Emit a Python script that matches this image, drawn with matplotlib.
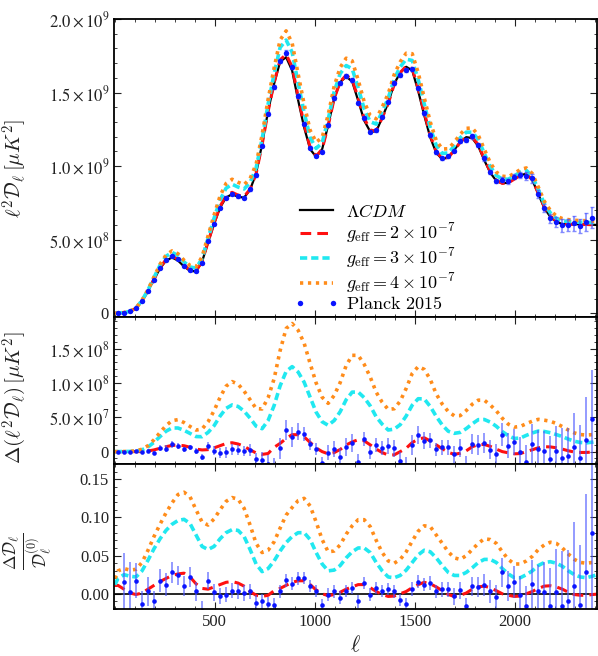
import numpy as np
import matplotlib
matplotlib.use("Agg")
import matplotlib.pyplot as plt
from matplotlib.ticker import MultipleLocator

plt.rcParams['font.family'] = ['Liberation Serif', 'DejaVu Serif']
plt.rcParams['mathtext.fontset'] = 'cm'

# multipoles: low-l points, Planck bin centres (step 30), end point
ell = np.concatenate([[2, 17], np.arange(47, 2388, 30), [2410]])

# LCDM l^2 D_l, units of 1e8 muK^2
lcdm = np.array([
    0.00, 0.02, 0.05, 0.13, 0.35, 0.85, 1.52, 2.30, 3.05, 3.58,
    3.79, 3.58, 3.18, 2.88, 2.85, 3.50, 4.82, 6.08, 7.18, 7.87,
    8.09, 7.92, 7.86, 8.40, 9.50, 11.50, 13.75, 15.60, 17.10, 17.40,
    16.50, 14.48, 12.63, 11.15, 10.63, 11.15, 12.78, 14.60, 15.70, 16.08,
    15.75, 14.45, 13.10, 12.35, 12.35, 13.30, 14.30, 15.60, 16.35, 16.75,
    16.50, 15.10, 13.45, 11.95, 10.90, 10.47, 10.60, 11.10, 11.65, 11.97,
    11.90, 11.35, 10.40, 9.55, 9.00, 8.83, 8.88, 9.15, 9.40, 9.47,
    9.05, 8.10, 7.15, 6.55, 6.20, 6.07, 6.05, 6.05, 6.05, 6.05,
    6.02, 6.00])

# relative change Delta D / D for g_eff = 2, 3, 4 x 1e-7
r2 = np.array([
    0.011, 0.011, 0.006, 0.001, -0.001, 0.001, 0.006, 0.011, 0.016, 0.020,
    0.024, 0.026, 0.027, 0.022, 0.013, 0.007, 0.006, 0.009, 0.012, 0.015,
    0.016, 0.014, 0.010, 0.003, -0.002, -0.0035, -0.002, 0.004, 0.007, 0.011,
    0.015, 0.017, 0.017, 0.012, 0.005, 0.000, -0.0025, -0.001, 0.002, 0.006,
    0.009, 0.012, 0.012, 0.008, 0.003, -0.001, -0.0035, -0.003, 0.000, 0.003,
    0.008, 0.012, 0.015, 0.013, 0.009, 0.004, -0.001, -0.0035, -0.002, 0.001,
    0.006, 0.009, 0.010, 0.008, 0.004, 0.000, -0.002, -0.0035, -0.003, 0.000,
    0.003, 0.007, 0.010, 0.0105, 0.009, 0.006, 0.002, -0.001, -0.002, -0.002,
    -0.001, -0.0005])
r3 = np.array([
    0.012, 0.020, 0.025, 0.023, 0.022, 0.030, 0.044, 0.059, 0.072, 0.083,
    0.091, 0.096, 0.0975, 0.092, 0.077, 0.062, 0.058, 0.062, 0.072, 0.080,
    0.084, 0.083, 0.075, 0.058, 0.039, 0.029, 0.033, 0.043, 0.056, 0.067,
    0.075, 0.080, 0.080, 0.071, 0.054, 0.039, 0.030, 0.031, 0.037, 0.047,
    0.055, 0.060, 0.060, 0.054, 0.041, 0.030, 0.022, 0.021, 0.024, 0.031,
    0.041, 0.051, 0.057, 0.055, 0.047, 0.037, 0.028, 0.024, 0.024, 0.028,
    0.034, 0.041, 0.045, 0.045, 0.041, 0.033, 0.026, 0.021, 0.021, 0.025,
    0.030, 0.037, 0.041, 0.042, 0.040, 0.036, 0.030, 0.025, 0.022, 0.021,
    0.023, 0.025])
r4 = np.array([
    0.020, 0.030, 0.033, 0.031, 0.032, 0.041, 0.057, 0.075, 0.091, 0.106,
    0.119, 0.130, 0.133, 0.127, 0.110, 0.094, 0.090, 0.098, 0.110, 0.121,
    0.126, 0.124, 0.112, 0.090, 0.066, 0.054, 0.057, 0.068, 0.086, 0.103,
    0.113, 0.122, 0.125, 0.115, 0.094, 0.071, 0.055, 0.056, 0.064, 0.078,
    0.089, 0.097, 0.097, 0.088, 0.070, 0.054, 0.043, 0.040, 0.045, 0.055,
    0.069, 0.082, 0.089, 0.088, 0.077, 0.066, 0.055, 0.047, 0.045, 0.050,
    0.058, 0.066, 0.072, 0.071, 0.066, 0.055, 0.045, 0.039, 0.039, 0.043,
    0.049, 0.058, 0.064, 0.0675, 0.066, 0.060, 0.052, 0.045, 0.041, 0.040,
    0.041, 0.042])

# Planck 2015 binned TT (at ell[1:-1]), relative to LCDM, and 1-sigma errors
pl_rel = np.array([
    -0.060, 0.016, 0.002, 0.017, -0.013, 0.003, -0.009, 0.017, 0.012, 0.028,
    0.024, 0.010, 0.022, 0.003, -0.022, 0.017, 0.002, -0.003, -0.001, 0.004,
    0.003, 0.001, 0.003, -0.012, -0.010, -0.013, -0.015, 0.003, 0.018, 0.013,
    0.020, 0.0205, 0.010, 0.004, -0.015, -0.001, 0.003, -0.005, 0.004, 0.008,
    -0.010, 0.014, -0.001, 0.008, 0.004, 0.006, 0.003, -0.008, -0.013, 0.006,
    0.016, 0.012, 0.014, 0.003, 0.006, 0.006, -0.0035, 0.0044, -0.0165, 0.0096,
    0.0087, 0.0117, 0.003, -0.004, 0.028, 0.010, 0.015, -0.001, -0.0165, 0.013,
    0.004, 0.002, -0.016, 0.002, -0.016, -0.010, 0.010, -0.015, 0.028, 0.080])
pl_err = np.array([
    0.030, 0.038, 0.040, 0.023, 0.016, 0.019, 0.012, 0.015, 0.015, 0.014,
    0.013, 0.013, 0.013, 0.013, 0.012, 0.011, 0.011, 0.010, 0.010, 0.010,
    0.010, 0.010, 0.010, 0.010, 0.010, 0.009, 0.009, 0.009, 0.0085, 0.0085,
    0.0085, 0.008, 0.008, 0.008, 0.008, 0.008, 0.008, 0.008, 0.008, 0.008,
    0.008, 0.008, 0.008, 0.008, 0.008, 0.008, 0.008, 0.008, 0.008, 0.009,
    0.009, 0.009, 0.009, 0.009, 0.010, 0.010, 0.011, 0.011, 0.011, 0.012,
    0.013, 0.014, 0.015, 0.016, 0.019, 0.020, 0.021, 0.024, 0.027, 0.031,
    0.034, 0.039, 0.050, 0.057, 0.072, 0.067, 0.084, 0.079, 0.103, 0.117])

labels = [r'$g_{\rm eff}=2\times10^{-7}$', r'$g_{\rm eff}=3\times10^{-7}$',
          r'$g_{\rm eff}=4\times10^{-7}$']

base = lcdm * 1e8
ell_pl = ell[1:-1]
base_pl = base[1:-1]

styles = [dict(color='#ff1010', ls=(0, (3.5, 2.0)), lw=2.2),
          dict(color='#20e8f0', ls=(0, (2.0, 1.1)), lw=2.6),
          dict(color='#ff8c1a', ls=(0, (0.9, 1.3)), lw=2.6)]
ratios = [r2, r3, r4]

fig = plt.figure(figsize=(5.98, 6.56), dpi=100)
ax1 = fig.add_axes([0.1906, 0.5168, 0.8077, 0.4543])
ax2 = fig.add_axes([0.1906, 0.2927, 0.8077, 0.2241])
ax3 = fig.add_axes([0.1906, 0.0716, 0.8077, 0.2211])

pt_col = '#0a14ff'
bar_col = (0.3, 0.35, 1.0, 0.7)

# top: spectra
ax1.plot(ell, base, color='k', lw=1.6, label=r'$\Lambda CDM$')
for r, st, lab in zip(ratios, styles, labels):
    ax1.plot(ell, base * (1 + r), label=lab, **st)
ax1.errorbar(ell_pl, base_pl * (1 + pl_rel), yerr=base_pl * pl_err, fmt='none',
             ecolor=bar_col, elinewidth=1.2, capsize=1.6)
ax1.plot(ell_pl, base_pl * (1 + pl_rel), 'o', color=pt_col, ms=3.9, mew=0,
         label=r'$\mathrm{Planck\ 2015}$')

# middle: absolute difference
for r, st in zip(ratios, styles):
    ax2.plot(ell, base * r, **st)
ax2.errorbar(ell_pl, base_pl * pl_rel, yerr=base_pl * pl_err, fmt='o',
             color=pt_col, ms=3.3, mew=0, ecolor=bar_col, elinewidth=1.2, capsize=1.6)

# bottom: relative difference
ax3.plot(ell, np.zeros(len(ell)), color='k', lw=1.2)
for r, st in zip(ratios, styles):
    ax3.plot(ell, r, **st)
ax3.errorbar(ell_pl, pl_rel, yerr=pl_err, fmt='o',
             color=pt_col, ms=3.3, mew=0, ecolor=bar_col, elinewidth=1.2, capsize=1.6)

ax1.set_ylim(-2.5e7, 2.0e9)
ax2.set_ylim(-1.8e7, 1.96e8)
ax3.set_ylim(-0.02, 0.17)

ax1.set_yticks([0, 5e8, 1e9, 1.5e9, 2e9],
               ['0', r'$5.0\times10^{8}$', r'$1.0\times10^{9}$',
                r'$1.5\times10^{9}$', r'$2.0\times10^{9}$'],
               math_fontfamily='stix')
ax2.set_yticks([0, 5e7, 1e8, 1.5e8],
               ['0', r'$5.0\times10^{7}$', r'$1.0\times10^{8}$',
                r'$1.5\times10^{8}$'], math_fontfamily='stix')
ax3.set_yticks([0, 0.05, 0.10, 0.15], ['0.00', '0.05', '0.10', '0.15'])
ax1.yaxis.set_minor_locator(MultipleLocator(1e8))
ax2.yaxis.set_minor_locator(MultipleLocator(1e7))
ax3.yaxis.set_minor_locator(MultipleLocator(0.01))

for ax in (ax1, ax2, ax3):
    ax.set_xlim(-3, 2410)
    ax.set_xticks([500, 1000, 1500, 2000])
    ax.xaxis.set_minor_locator(MultipleLocator(100))
    ax.tick_params(which='both', direction='in', top=True, right=True,
                   labelsize=12, colors='#222222')
    ax.tick_params(which='major', length=5, width=0.8)
    ax.tick_params(which='minor', length=2.5, width=0.6)
    for s in ax.spines.values():
        s.set_linewidth(1.3)
ax1.tick_params(labelbottom=False)
ax2.tick_params(labelbottom=False)

ax1.set_ylabel(r'$\ell^2\mathcal{D}_\ell\,[\mu K^2]$', fontsize=15, color='#222222')
ax2.set_ylabel(r'$\Delta(\ell^2\mathcal{D}_\ell)\,[\mu K^2]$', fontsize=15, color='#222222')
ax3.set_ylabel(r'$\frac{\Delta\mathcal{D}_\ell}{\mathcal{D}_\ell^{(0)}}$', fontsize=18,
               color='#222222')
ax1.yaxis.set_label_coords(-0.175, 0.5)
ax2.yaxis.set_label_coords(-0.175, 0.45)
ax3.yaxis.set_label_coords(-0.125, 0.4)
ax3.set_xlabel(r'$\ell$', fontsize=16, color='#222222', labelpad=4)

ax1.legend(loc='upper left', bbox_to_anchor=(0.36, 0.405), frameon=False,
           fontsize=13, handlelength=2.4, handletextpad=0.4, labelspacing=0.05,
           numpoints=2, borderaxespad=0)

fig.savefig('out.png', dpi=100)
